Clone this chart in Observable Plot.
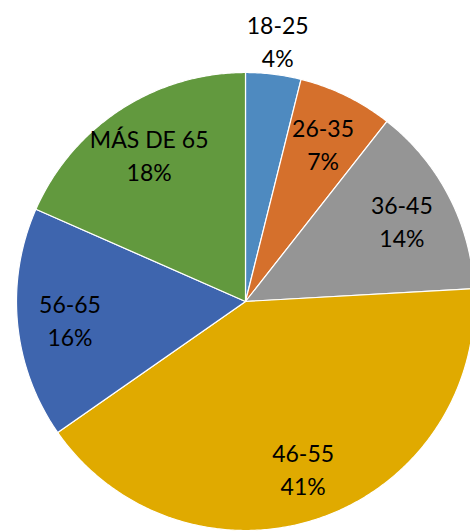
<!DOCTYPE html>
<html>
<head>
<meta charset="utf-8">
<script src="https://cdn.jsdelivr.net/npm/d3@7"></script>
<script src="https://cdn.jsdelivr.net/npm/@observablehq/plot@0.6"></script>
<style>
  html, body { margin: 0; padding: 0; background: #ffffff; }
  #chart { width: 470px; height: 531px; }
</style>
</head>
<body>
<div id="chart"></div>
<script>
// ---- data ----
const categories = ["18-25", "26-35", "36-45", "46-55", "56-65", "MÁS DE 65"];
const values = [3.9, 6.7, 13.5, 41.2, 16.3, 18.4];
const colors = ["#4E8AC0", "#D5702C", "#959595", "#E0AA00", "#3E65AE", "#62993E"];

// ---- layout ----
const W = 470, H = 531;
const cx = 245, cy = 301, R = 229;

const arcs = d3.pie().sort(null).value(d => d)(values);

// slice polygons in unit-radius coordinates (y pointing down)
const slicePts = [];
arcs.forEach((a, i) => {
  const n = Math.max(2, Math.ceil((a.endAngle - a.startAngle) / (Math.PI / 360)));
  slicePts.push({cat: categories[i], x: 0, y: 0});
  for (let k = 0; k <= n; k++) {
    const t = a.startAngle + (a.endAngle - a.startAngle) * k / n;
    slicePts.push({cat: categories[i], x: Math.sin(t), y: -Math.cos(t)});
  }
  slicePts.push({cat: categories[i], x: 0, y: 0});
});

const labels = arcs.map((a, i) => {
  const mid = (a.startAngle + a.endAngle) / 2;
  const r = values[i] < 5 ? 1.15 : 0.77;
  return {
    cat: categories[i],
    x: r * Math.sin(mid),
    y: -r * Math.cos(mid),
    text: `${categories[i]}\n${Math.round(values[i])}%`
  };
});

const chart = Plot.plot({
  width: W,
  height: H,
  margin: 0,
  style: {background: "#ffffff"},
  x: {domain: [-cx / R, (W - cx) / R], range: [0, W], axis: null},
  y: {domain: [-cy / R, (H - cy) / R], range: [0, H], axis: null},
  color: {domain: categories, range: colors},
  marks: [
    Plot.line(slicePts, {
      x: "x", y: "y", z: "cat", fill: "cat",
      stroke: "#ffffff", strokeWidth: 1.2, strokeLinejoin: "round", curve: "linear"
    }),
    Plot.text(labels, {
      x: "x", y: "y", text: "text",
      fontSize: 23, fontFamily: "Lato, 'Open Sans', sans-serif",
      fill: "#000000", lineHeight: 1.43, textAnchor: "middle", lineAnchor: "middle"
    })
  ]
});
document.getElementById("chart").appendChild(chart);
</script>
</body>
</html>
